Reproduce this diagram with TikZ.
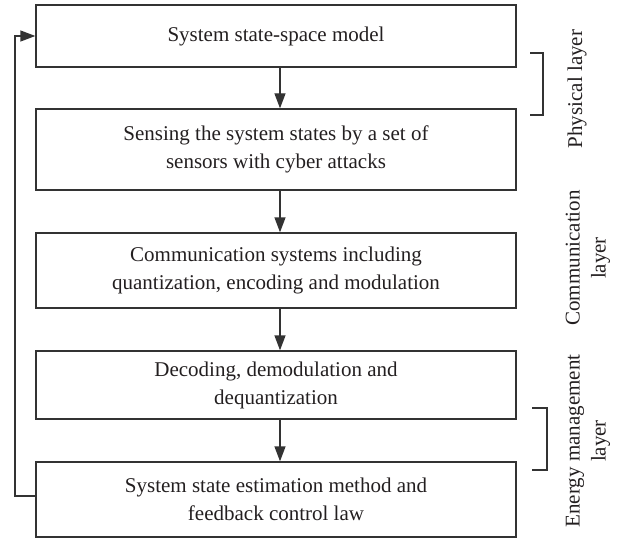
\documentclass[tikz,border=0pt]{standalone}
\usepackage{fontspec}
\setmainfont{Liberation Serif}
\usetikzlibrary{arrows.meta, math}
\definecolor{linegray}{RGB}{51,51,51}
\definecolor{textdark}{RGB}{35,31,32}

\begin{document}
\begin{tikzpicture}[x=1pt, y=-1pt,
  stagebox/.style={draw=linegray, line width=1.3pt, minimum width=480pt, inner sep=0pt, align=center, text=textdark, font=\fontsize{21}{28}\selectfont},
  layerlabel/.style={rotate=90, align=center, inner sep=0pt, text=textdark, font=\fontsize{21}{26}\selectfont},
  flow/.style={draw=linegray, line width=1.3pt, -{Triangle[length=15pt,width=11pt]}},
  bracket/.style={draw=linegray, line width=1.2pt}]
\tikzmath{
\cx=276;
\sh=4;
}
\useasboundingbox (0,0) rectangle (628,540);

% stages
\node[stagebox, minimum height=62pt] (model) at (\cx,36) {System state-space model};
\node[stagebox, minimum height=81pt] (sensing) at (\cx,149.5) {Sensing the system states by a set of\\sensors with cyber attacks};
\node[stagebox, minimum height=75pt] (comm) at (\cx,270.5) {Communication systems including\\quantization, encoding and modulation};
\node[stagebox, minimum height=68pt] (decode) at (\cx,385) {Decoding, demodulation and\\dequantization};
\node[stagebox, minimum height=75pt] (estim) at (\cx,499.5) {System state estimation method and\\feedback control law};

% downward flow
\draw[flow] ([xshift=\sh pt]model.south) -- ([xshift=\sh pt]sensing.north);
\draw[flow] ([xshift=\sh pt]sensing.south) -- ([xshift=\sh pt]comm.north);
\draw[flow] ([xshift=\sh pt]comm.south) -- ([xshift=\sh pt]decode.north);
\draw[flow] ([xshift=\sh pt]decode.south) -- ([xshift=\sh pt]estim.north);

% feedback loop
\coordinate (fbleft) at (15,0);
\draw[flow] ([yshift=3.5pt]estim.west) -- ([yshift=3.5pt]estim.west -| fbleft) |- (model.west);

% layers
\draw[bracket] (530,53) -| (543,115) -- (530,115);
\draw[bracket] (532,408) -| (547,470) -- (532,470);

\node[layerlabel] (phys) at (577,89) {Physical layer};
\node[layerlabel] (commlayer) at (588,258) {Communication\\layer};
\node[layerlabel] (energy) at (588,441) {Energy management\\layer};
\end{tikzpicture}
\end{document}
